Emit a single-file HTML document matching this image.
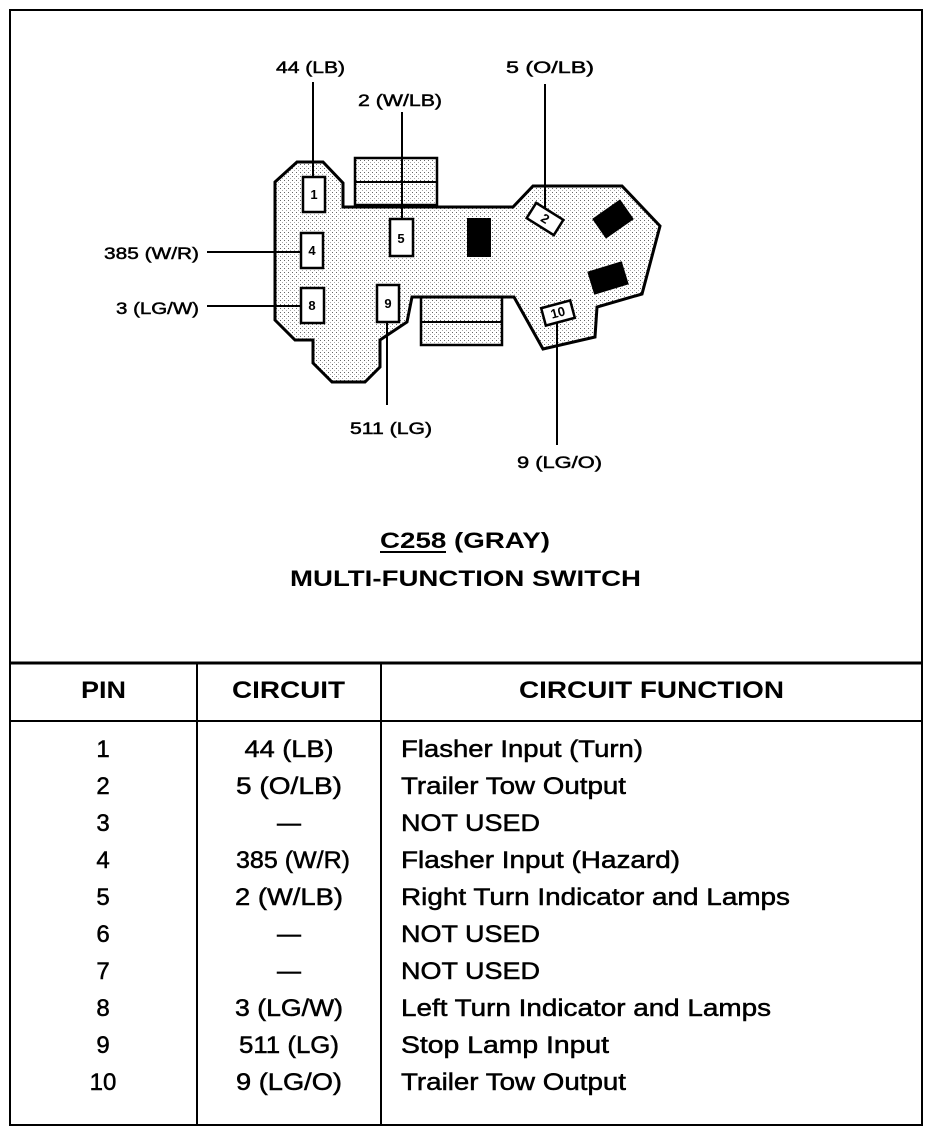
<!DOCTYPE html>
<html><head><meta charset="utf-8"><style>
html,body{margin:0;padding:0;background:#fff;}
svg{display:block;}
text{font-family:"Liberation Sans",Arial,sans-serif;fill:#000;}
.w{stroke:#000;stroke-width:0.5;}
</style></head><body>
<svg width="944" height="1136" viewBox="0 0 944 1136" xmlns="http://www.w3.org/2000/svg">
<defs>
<pattern id="dots" width="4" height="4" patternUnits="userSpaceOnUse">
<rect width="4" height="4" fill="#fff"/><rect x="0" y="0" width="1" height="1" fill="#666"/><rect x="2" y="2" width="1" height="1" fill="#aaa"/>
</pattern>
</defs>
<rect x="10" y="10" width="912" height="1115" fill="none" stroke="#000" stroke-width="2"/>
<line x1="10" y1="663" x2="922" y2="663" stroke="#000" stroke-width="3"/>
<line x1="10" y1="721" x2="922" y2="721" stroke="#000" stroke-width="2"/>
<line x1="197" y1="663" x2="197" y2="1125" stroke="#000" stroke-width="2"/>
<line x1="381" y1="663" x2="381" y2="1125" stroke="#000" stroke-width="2"/>

<rect x="355" y="158" width="82" height="47" fill="url(#dots)" stroke="#000" stroke-width="2.5"/>
<line x1="355" y1="182" x2="437" y2="182" stroke="#000" stroke-width="2"/>
<rect x="421" y="297" width="81" height="48" fill="url(#dots)" stroke="#000" stroke-width="2.5"/>
<line x1="421" y1="322" x2="502" y2="322" stroke="#000" stroke-width="2"/>
<polygon points="275,182 297,162 323,162 343,183 343,207 513,207 533,186 622,186 660,226 642,294 597,307 595,337 543,349 514,297 412,297 407,322 380,340 380,367 365,382 332,382 313,363 313,340 295,340 275,320" fill="url(#dots)" stroke="#000" stroke-width="3"/>

<g fill="#fff" stroke="#000" stroke-width="2.5">
<rect x="303" y="177" width="22" height="35"/>
<rect x="301" y="233" width="22" height="35"/>
<rect x="301" y="288" width="23" height="35"/>
<rect x="390" y="219" width="23" height="37"/>
<rect x="377" y="285" width="22" height="37"/>
<rect x="-16" y="-9" width="32" height="18" transform="translate(545,219) rotate(32)"/>
<rect x="-15" y="-9" width="30" height="18" transform="translate(558,313) rotate(-15)"/>
</g>
<rect x="467" y="218" width="24" height="39" fill="#000"/>
<rect x="-17" y="-12" width="34" height="24" fill="#000" transform="translate(613,219) rotate(-35)"/>
<rect x="-18" y="-12" width="36" height="24" fill="#000" transform="translate(608,278) rotate(-17)"/>
<g font-size="13" font-weight="bold" text-anchor="middle">
<text x="314" y="199">1</text>
<text x="312" y="255">4</text>
<text x="312" y="310">8</text>
<text x="401" y="243">5</text>
<text x="388" y="308">9</text>
<text x="545" y="223" transform="rotate(32 545 219)">2</text>
<text x="558" y="317" transform="rotate(-15 558 313)">10</text>
</g>

<g stroke="#000" stroke-width="2">
<line x1="313" y1="82" x2="313" y2="177"/>
<line x1="402" y1="112" x2="402" y2="219"/>
<line x1="545" y1="84" x2="545" y2="208"/>
<line x1="207" y1="252" x2="301" y2="252"/>
<line x1="207" y1="306" x2="301" y2="306"/>
<line x1="387" y1="322" x2="387" y2="405"/>
<line x1="557" y1="322" x2="557" y2="445"/>
</g>
<g font-size="17" class="w" lengthAdjust="spacingAndGlyphs">
<text x="276" y="73" textLength="69" lengthAdjust="spacingAndGlyphs">44 (LB)</text>
<text x="358" y="106" textLength="84" lengthAdjust="spacingAndGlyphs">2 (W/LB)</text>
<text x="506" y="73" textLength="88" lengthAdjust="spacingAndGlyphs">5  (O/LB)</text>
<text x="104" y="259" textLength="95" lengthAdjust="spacingAndGlyphs">385 (W/R)</text>
<text x="116" y="314" textLength="83" lengthAdjust="spacingAndGlyphs">3 (LG/W)</text>
<text x="350" y="434" textLength="82" lengthAdjust="spacingAndGlyphs">511 (LG)</text>
<text x="517" y="468" textLength="85" lengthAdjust="spacingAndGlyphs">9 (LG/O)</text>
</g>

<g font-size="22" font-weight="bold">
<text x="380" y="548" textLength="170" lengthAdjust="spacingAndGlyphs">C258 (GRAY)</text>
<line x1="380" y1="552" x2="446" y2="552" stroke="#000" stroke-width="2"/>
<text x="290" y="586" textLength="351" lengthAdjust="spacingAndGlyphs">MULTI-FUNCTION SWITCH</text>
</g>

<g font-size="24" font-weight="bold">
<text x="81" y="698" textLength="45" lengthAdjust="spacingAndGlyphs">PIN</text>
<text x="232" y="698" textLength="113" lengthAdjust="spacingAndGlyphs">CIRCUIT</text>
<text x="519" y="698" textLength="265" lengthAdjust="spacingAndGlyphs">CIRCUIT FUNCTION</text>
</g>
<g font-size="24" text-anchor="middle" class="w">
<text x="103" y="757">1</text><text x="289" y="757" textLength="89" lengthAdjust="spacingAndGlyphs">44 (LB)</text>
<text x="103" y="794">2</text><text x="289" y="794" textLength="106" lengthAdjust="spacingAndGlyphs">5 (O/LB)</text>
<text x="103" y="831">3</text><text x="289" y="831">—</text>
<text x="103" y="868">4</text><text x="293" y="868" textLength="114" lengthAdjust="spacingAndGlyphs">385 (W/R)</text>
<text x="103" y="905">5</text><text x="289" y="905" textLength="108" lengthAdjust="spacingAndGlyphs">2 (W/LB)</text>
<text x="103" y="942">6</text><text x="289" y="942">—</text>
<text x="103" y="979">7</text><text x="289" y="979">—</text>
<text x="103" y="1016">8</text><text x="289" y="1016" textLength="108" lengthAdjust="spacingAndGlyphs">3 (LG/W)</text>
<text x="103" y="1053">9</text><text x="289" y="1053" textLength="100" lengthAdjust="spacingAndGlyphs">511 (LG)</text>
<text x="103" y="1090">10</text><text x="289" y="1090" textLength="106" lengthAdjust="spacingAndGlyphs">9 (LG/O)</text>
</g>
<g font-size="24" class="w">
<text x="401" y="757" textLength="242" lengthAdjust="spacingAndGlyphs">Flasher Input (Turn)</text>
<text x="401" y="794" textLength="225" lengthAdjust="spacingAndGlyphs">Trailer Tow Output</text>
<text x="401" y="831" textLength="139" lengthAdjust="spacingAndGlyphs">NOT USED</text>
<text x="401" y="868" textLength="279" lengthAdjust="spacingAndGlyphs">Flasher Input (Hazard)</text>
<text x="401" y="905" textLength="389" lengthAdjust="spacingAndGlyphs">Right Turn Indicator and Lamps</text>
<text x="401" y="942" textLength="139" lengthAdjust="spacingAndGlyphs">NOT USED</text>
<text x="401" y="979" textLength="139" lengthAdjust="spacingAndGlyphs">NOT USED</text>
<text x="401" y="1016" textLength="370" lengthAdjust="spacingAndGlyphs">Left Turn Indicator and Lamps</text>
<text x="401" y="1053" textLength="208" lengthAdjust="spacingAndGlyphs">Stop Lamp Input</text>
<text x="401" y="1090" textLength="225" lengthAdjust="spacingAndGlyphs">Trailer Tow Output</text>
</g>
</svg>
</body></html>
